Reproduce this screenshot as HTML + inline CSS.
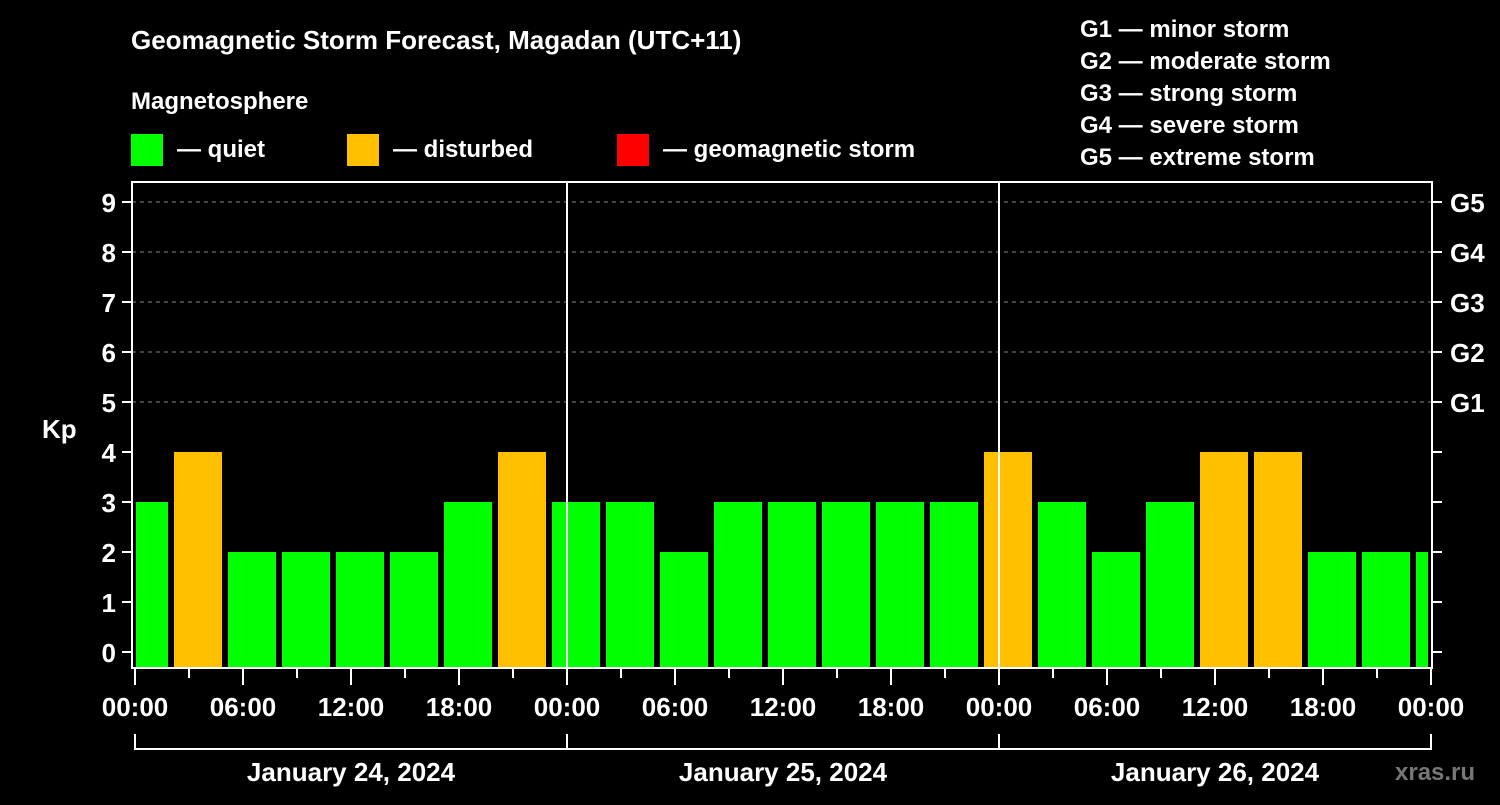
<!DOCTYPE html>
<html><head><meta charset="utf-8"><style>
body{margin:0;background:#000;width:1500px;height:800px;overflow:hidden}
svg text{font-family:"Liberation Sans",Arial,sans-serif;font-weight:bold;fill:#fff}
</style></head><body>
<svg id="chart" width="1500" height="800" xmlns="http://www.w3.org/2000/svg">
<rect width="1500" height="800" fill="#000"/>
<text x="131" y="49" font-size="26">Geomagnetic Storm Forecast, Magadan (UTC+11)</text>
<text x="131" y="109" font-size="24">Magnetosphere</text>
<g><rect x="131" y="134" width="32" height="32" fill="#00ff00"/><text x="177" y="157" font-size="24">— quiet</text></g>
<g><rect x="347" y="134" width="32" height="32" fill="#ffc000"/><text x="393" y="157" font-size="24">— disturbed</text></g>
<g><rect x="617" y="134" width="32" height="32" fill="#ff0000"/><text x="663" y="157" font-size="24">— geomagnetic storm</text></g>
<g font-size="24">
<text x="1080" y="37">G1 — minor storm</text>
<text x="1080" y="69">G2 — moderate storm</text>
<text x="1080" y="101">G3 — strong storm</text>
<text x="1080" y="133">G4 — severe storm</text>
<text x="1080" y="165">G5 — extreme storm</text>
</g>
<text x="42" y="438" font-size="26">Kp</text>
<g id="grid"></g><g id="bars"></g><g id="axes"></g>
<text x="1395" y="780" font-size="24" style="fill:#777">xras.ru</text>
</svg>
<script>
const values=[3,4,2,2,2,2,3,4,3,3,2,3,3,3,3,3,4,3,2,3,4,4,2,2,2];
const yTicks=[0,1,2,3,4,5,6,7,8,9];
const gLabels=["G1","G2","G3","G4","G5"];
const gLevels=[5,6,7,8,9];
const xLabels=["00:00","06:00","12:00","18:00","00:00","06:00","12:00","18:00","00:00","06:00","12:00","18:00","00:00"];
const days=["January 24, 2024","January 25, 2024","January 26, 2024"];
const NS="http://www.w3.org/2000/svg";
const L=132,R=1432,T=182,B=668,X0=135,HP=18;
const y=v=>652-50*v;
const x=h=>X0+h*HP;
function mk(tag,attrs,parent,text){const e=document.createElementNS(NS,tag);for(const k in attrs)e.setAttribute(k,attrs[k]);if(text!==undefined)e.textContent=text;document.getElementById(parent).appendChild(e);return e;}
gLevels.forEach((g,i)=>{
 const l=mk('line',{x1:L,x2:R,y1:y(g),y2:y(g),stroke:'#888','stroke-dasharray':'4,4','stroke-width':1},'grid');
 
 
 const t=mk('text',{x:1450,y:y(g)+10,'font-size':26},'axes',gLabels[i]);
 
 
});
values.forEach((v,k)=>{
 let x1=x(3*k)-15,x2=x1+48;
 x1=Math.max(x1,L+4);x2=Math.min(x2,R-4);
 const col=v>=5?'#ff0000':v>=4?'#ffc000':'#00ff00';
 const r=mk('rect',{x:x1,y:y(v),width:x2-x1,height:B-y(v),fill:col},'bars');
 
 
});
[1,2].forEach(d=>{const l=mk('line',{x1:x(24*d),x2:x(24*d),y1:T,y2:B,stroke:'#fff','stroke-width':2},'bars');
 
 });
const f=mk('rect',{x:L,y:T,width:R-L,height:B-T,fill:'none',stroke:'#fff','stroke-width':2},'axes');


yTicks.forEach(v=>{
 mk('line',{x1:122,x2:L,y1:y(v),y2:y(v),stroke:'#fff','stroke-width':2},'axes');
 mk('line',{x1:R,x2:1442,y1:y(v),y2:y(v),stroke:'#fff','stroke-width':2},'axes');
 const t=mk('text',{x:116,y:y(v)+10,'font-size':26,'text-anchor':'end'},'axes',String(v));
 
 
});
for(let h=0;h<=72;h+=3){
 const major=h%6===0;
 mk('line',{x1:x(h),x2:x(h),y1:B,y2:major?685:678,stroke:'#fff','stroke-width':2},'axes');
}
xLabels.forEach((s,i)=>{
 const t=mk('text',{x:x(6*i),y:716,'font-size':26,'text-anchor':'middle'},'axes',s);
 
 
});
mk('line',{x1:x(0),x2:x(72),y1:749,y2:749,stroke:'#fff','stroke-width':2},'axes');
for(let d=0;d<=3;d++)mk('line',{x1:x(24*d),x2:x(24*d),y1:734,y2:750,stroke:'#fff','stroke-width':2},'axes');
days.forEach((s,i)=>{
 const t=mk('text',{x:x(24*i+12),y:781,'font-size':26,'text-anchor':'middle'},'axes',s);
 
 
});
</script>
</body></html>
